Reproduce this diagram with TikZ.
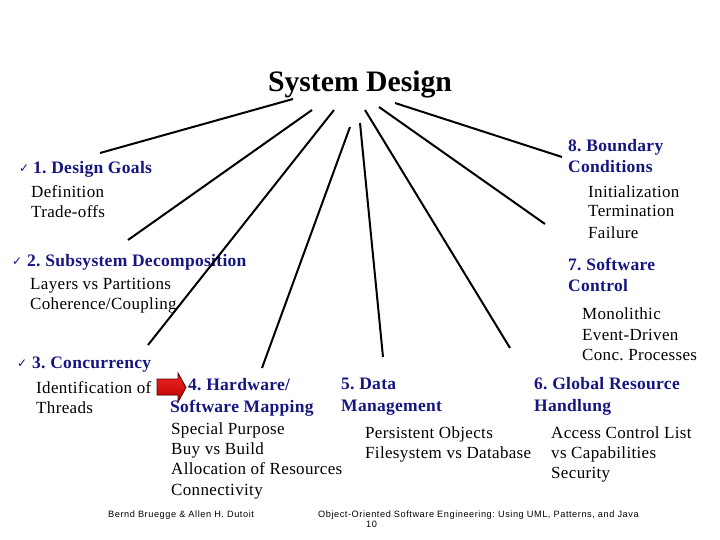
\documentclass[tikz,border=0pt]{standalone}
\usepackage{fontspec}
\setmainfont{Liberation Serif}
\newfontfamily\checkfont{DejaVu Sans}
\newfontfamily\headfont[LetterSpace=1.7]{Liberation Serif}
\newfontfamily\itemfont[LetterSpace=2]{Liberation Serif}
\newfontfamily\footfont[LetterSpace=6]{Liberation Sans}
\definecolor{navy}{RGB}{22,22,128}
\definecolor{arrowred}{RGB}{235,0,0}
\definecolor{arrowdark}{RGB}{90,0,0}
\frenchspacing
\begin{document}
\frenchspacing
\begin{tikzpicture}[x=1pt,y=-1pt,
  titlestyle/.style={inner sep=0pt,anchor=base,font=\fontsize{29.7}{34}\selectfont\bfseries},
  headstyle/.style={inner sep=0pt,anchor=base west,text=navy,font=\headfont\fontsize{17.5}{21}\selectfont\bfseries},
  itemstyle/.style={inner sep=0pt,anchor=base west,font=\itemfont\fontsize{17}{20}\selectfont},
  checkstyle/.style={inner sep=0pt,anchor=base west,text=navy,font=\checkfont\fontsize{12}{13}\selectfont},
  footstyle/.style={inner sep=0pt,anchor=base west,font=\footfont\fontsize{9.2}{10}\selectfont},
  linkstyle/.style={line width=2pt,black}]
\useasboundingbox (0,0) rectangle (720,540);
\fill[white] (0,0) rectangle (720,540);

% title
\node[titlestyle] (title) at (360,92) {System Design};

% 1
\node[checkstyle] (c1) at (19,173) {✓};
\node[headstyle] (h1) at (33,174) {1. Design Goals};
\node[itemstyle] (i1a) at (31,197) {Definition};
\node[itemstyle] (i1b) at (31,218) {Trade-offs};

% 2
\node[checkstyle] (c2) at (12,265) {✓};
\node[headstyle] (h2) at (27,266) {2. Subsystem Decomposition};
\node[itemstyle] (i2a) at (30,289) {Layers vs Partitions};
\node[itemstyle] (i2b) at (30,309) {Coherence/Coupling};

% 3
\node[checkstyle] (c3) at (17,367) {✓};
\node[headstyle] (h3) at (32,368) {3. Concurrency};
\node[itemstyle] (i3a) at (36,393) {Identification of};
\node[itemstyle] (i3b) at (36,413) {Threads};

% arrow
\filldraw[draw=arrowdark,line width=0.8pt,top color=arrowred!85!white,bottom color=arrowred!80!black]
  (157,379) -- (178,379) -- (178,373) -- (186,387.5) -- (178,402) -- (178,395) -- (157,395) -- cycle;

% 4
\node[headstyle] (h4a) at (188,390) {4. Hardware/};
\node[headstyle] (h4b) at (170,412) {Software Mapping};
\node[itemstyle] (i4a) at (171,434) {Special Purpose};
\node[itemstyle] (i4b) at (171,454) {Buy vs Build};
\node[itemstyle] (i4c) at (171,474) {Allocation of Resources};
\node[itemstyle] (i4d) at (171,495) {Connectivity};

% 5
\node[headstyle] (h5a) at (341,389) {5. Data};
\node[headstyle] (h5b) at (341,411) {Management};
\node[itemstyle] (i5a) at (365,438) {Persistent Objects};
\node[itemstyle] (i5b) at (365,458) {Filesystem vs Database};

% 6
\node[headstyle] (h6a) at (534,389) {6. Global Resource};
\node[headstyle] (h6b) at (534,411) {Handlung};
\node[itemstyle] (i6a) at (551,438) {Access Control List};
\node[itemstyle] (i6b) at (551,458) {vs Capabilities};
\node[itemstyle] (i6c) at (551,478) {Security};

% 7
\node[headstyle] (h7a) at (568,270) {7. Software};
\node[headstyle] (h7b) at (568,291) {Control};
\node[itemstyle] (i7a) at (582,319) {Monolithic};
\node[itemstyle] (i7b) at (582,340) {Event-Driven};
\node[itemstyle] (i7c) at (582,360) {Conc. Processes};

% 8
\node[headstyle] (h8a) at (568,152) {8. Boundary};
\node[headstyle] (h8b) at (568,173) {Conditions};
\node[itemstyle] (i8a) at (588,197) {Initialization};
\node[itemstyle] (i8b) at (588,217) {Termination};
\node[itemstyle] (i8c) at (588,238) {Failure};

% footer
\node[footstyle] (f1) at (108,517) {Bernd Bruegge \& Allen H. Dutoit};
\node[footstyle] (f2) at (318,517) {Object-Oriented Software Engineering: Using UML, Patterns, and Java};
\node[footstyle] (f3) at (366,527) {10};

% connector end points
\coordinate (s1) at (293,99);  \coordinate (e1) at (100,153);
\coordinate (s2) at (312,110); \coordinate (e2) at (128,240);
\coordinate (s3) at (334,110); \coordinate (e3) at (148,345);
\coordinate (s4) at (350,127); \coordinate (e4) at (262,368);
\coordinate (s5) at (360,123); \coordinate (e5) at (383,357);
\coordinate (s6) at (365,110); \coordinate (e6) at (510,348);
\coordinate (s7) at (379,107); \coordinate (e7) at (545,224);
\coordinate (s8) at (395,103); \coordinate (e8) at (562,157);

\foreach \k in {1,...,8} {\draw[linkstyle] (s\k) -- (e\k);}
\end{tikzpicture}
\end{document}
